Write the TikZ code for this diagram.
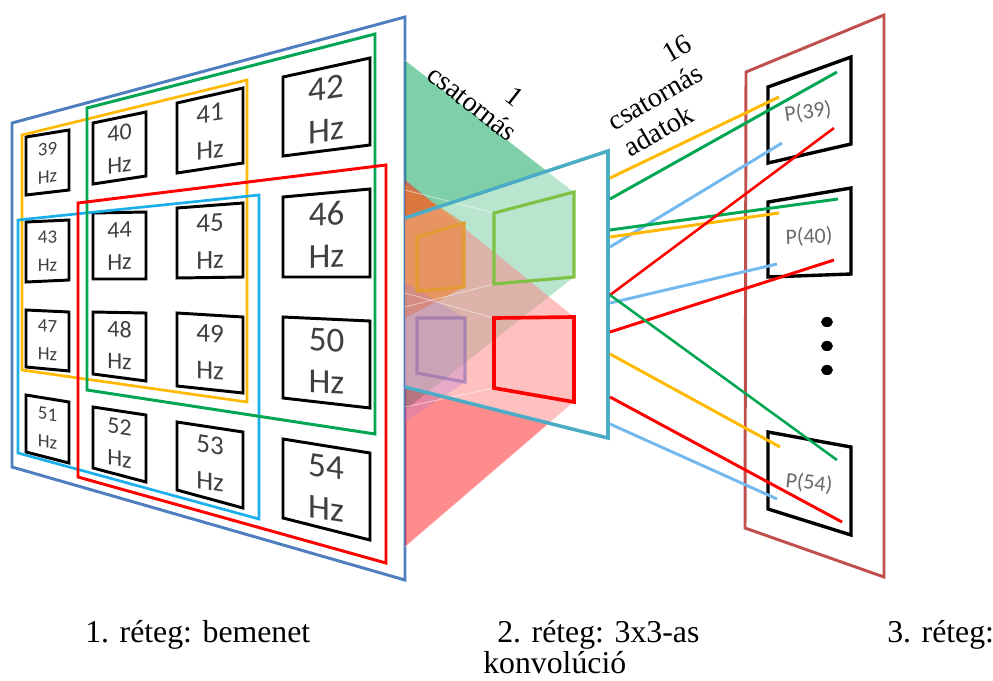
\documentclass[tikz,border=0pt]{standalone}
\usepackage{fontspec}
\setmainfont{Liberation Serif}
\newfontfamily\cellfont{Carlito}
\usetikzlibrary{shapes.geometric}

\definecolor{layerblue}{HTML}{4F7EC0}
\definecolor{layerteal}{HTML}{4BACC6}
\definecolor{layerbrown}{HTML}{C0504D}
\definecolor{kgreen}{HTML}{00A651}
\definecolor{korange}{HTML}{FFB900}
\definecolor{kred}{HTML}{FF0000}
\definecolor{kblue}{HTML}{1AAEEB}
\definecolor{lineblue}{HTML}{74B9EE}
\definecolor{sqgreen}{HTML}{7DC242}
\definecolor{sqorange}{HTML}{E39B2B}
\definecolor{sqpurple}{HTML}{8E6BB0}
\definecolor{projgreen}{HTML}{00A151}
\definecolor{projred}{HTML}{FF1A1A}
\definecolor{projorange}{HTML}{F07C28}
\definecolor{projviolet}{HTML}{A070E0}
\definecolor{celltext}{HTML}{404040}
\definecolor{ptext}{HTML}{6A6A6A}

\tikzset{
  cellbox/.style={draw=black, line width=2.1pt, line join=miter},
  celllabel/.style={align=center, inner sep=0pt, text=celltext},
  frameline/.style={line width=2.1pt, line join=miter},
  proj/.style={draw=none},
  projedge/.style={draw=white, line width=0.6pt, opacity=0.5},
  kernelsq/.style={line width=2.2pt, line join=miter},
  conn/.style={line width=2.1pt},
  pbox/.style={draw=black, line width=2.4pt, line join=miter},
  plabel/.style={inner sep=0pt, text=ptext, font=\cellfont\fontsize{15.6}{18}\selectfont},
  toplabel/.style={inner sep=0pt, align=center, font=\fontsize{20}{22}\selectfont},
  caption/.style={inner sep=0pt, anchor=base west, font=\fontsize{22.6}{26}\selectfont},
  dotmark/.style={ellipse, fill=black, inner sep=0pt, minimum width=8.4pt, minimum height=7.2pt},
}

\begin{document}
\begin{tikzpicture}[x=0.025cm, y=-0.025cm]
\path[use as bounding box] (0,0) rectangle (993,680);

% ---------- layer 1: input grid ----------
\draw[frameline, draw=layerblue, fill=white] (12,123) -- (405,17) -- (405,580) -- (12,467) -- cycle;

\foreach \ax/\ay/\bx/\by/\cx/\cy/\dx/\dy/\num/\fs/\bs/\sl in {
   26/137/69/130/69/190/26/195/39/13.5/20/0.15,
   93/123/146/112/146/176/93/184/40/17/22.8/0.15,
   177/103/243/88/243/163/177/173/41/19.2/26.3/0.15,
   283/77/370/58/370/145/283/156/42/24.9/29.9/0.15,
   26/222/69/220/69/280/26/282/43/13.5/20/0.05,
   93/213/146/212/146/279/93/279/44/17/22.8/0.05,
   177/208/243/203/243/277/177/278/45/19.2/26.3/0.05,
   283/197/370/189/370/277/283/277/46/24.9/29.9/0.05,
   26/310/69/312/69/371/26/367/47/13.5/20/-0.05,
   93/312/146/313/146/381/93/374/48/17/22.8/-0.05,
   177/313/243/317/243/393/177/386/49/19.2/26.3/-0.05,
   283/317/370/321/370/408/283/398/50/24.9/29.9/-0.05,
   26/395/69/402/69/463/26/452/51/13.5/20/-0.15,
   93/407/146/415/146/482/93/468/52/17/22.8/-0.15,
   177/422/243/432/243/508/177/490/53/19.2/26.3/-0.15,
   283/439/370/453/370/540/283/518/54/24.9/29.9/-0.15}
{
  \draw[cellbox] (\ax,\ay) -- (\bx,\by) -- (\cx,\cy) -- (\dx,\dy) -- cycle;
  \node[celllabel, yslant=\sl, font=\cellfont\fontsize{\fs}{\bs}\selectfont]
    (hz\num) at ({(\ax+\bx+\cx+\dx)/4},{(\ay+\by+\cy+\dy)/4}) {\num\\Hz};
}

% receptive fields
\draw[frameline, draw=korange, line width=1.9pt] (22,135) -- (247,80) -- (247,402) -- (22,370) -- cycle;
\draw[frameline, draw=kblue, line width=1.9pt] (18,220) -- (259,195) -- (259,519) -- (18,453) -- cycle;
\draw[frameline, draw=kgreen] (87,108) -- (375,34) -- (375,434) -- (87,390) -- cycle;
\draw[frameline, draw=kred] (78,203) -- (386,165) -- (386,563) -- (78,477) -- cycle;

% ---------- projections towards layer 2 ----------
\fill[proj, projgreen, opacity=0.5] (405,60) -- (574,192) -- (574,277) -- (405,410) -- cycle;
\fill[proj, projred, opacity=0.5] (405,180) -- (574,317) -- (574,402) -- (405,547) -- cycle;

% translucent plane of layer 2
\fill[white, opacity=0.45] (405,218) -- (608,151) -- (608,438) -- (405,387) -- cycle;

\fill[proj, projorange, opacity=0.55] (405,184) -- (464,223) -- (464,287) -- (405,318) -- cycle;
\fill[proj, projviolet, opacity=0.25] (405,282) -- (465,318) -- (465,382) -- (405,422) -- cycle;

% pyramid edges
\draw[projedge] (405,60) -- (574,192);
\draw[projedge] (405,190) -- (494,213);
\draw[projedge] (405,307) -- (494,284);
\draw[projedge] (405,293) -- (494,318);
\draw[projedge] (405,407) -- (494,388);
\draw[projedge] (574,402) -- (405,547);

% layer 2 border
\draw[line width=2.5pt, draw=layerteal, line join=miter] (405,218) -- (608,151) -- (608,438) -- (405,387);

% kernel outputs on layer 2
\draw[kernelsq, draw=sqorange, opacity=0.9] (417,237) -- (464,223) -- (464,287) -- (417,291) -- cycle;
\draw[kernelsq, draw=sqgreen] (494,213) -- (574,192) -- (574,277) -- (494,284) -- cycle;
\draw[kernelsq, draw=sqpurple, opacity=0.6] (417,318) -- (465,318) -- (465,382) -- (417,373) -- cycle;
\draw[kernelsq, draw=kred, line width=2.6pt] (494,318) -- (574,317) -- (574,402) -- (494,388) -- cycle;

% ---------- layer 3 ----------
\draw[frameline, draw=layerbrown] (746,72) -- (884,15) -- (884,577) -- (745,528) -- cycle;
\draw[pbox] (768,87) -- (851,57) -- (851,144) -- (768,163) -- cycle;
\draw[pbox] (768,202) -- (851,188) -- (851,274) -- (768,277) -- cycle;
\draw[pbox] (768,432) -- (851,447) -- (851,535) -- (768,509) -- cycle;
\node[plabel, rotate=8] (p39) at (808,112) {P(39)};
\node[plabel, rotate=2] (p40) at (809,237) {P(40)};
\node[plabel, rotate=-6] (p54) at (809,483) {P(54)};
\node[dotmark] (dot1) at (827,322) {};
\node[dotmark] (dot2) at (827,346) {};
\node[dotmark] (dot3) at (827,370) {};

% ---------- connections from layer 2 to layer 3 ----------
\foreach \n/\sy/\ex/\ey in {1/178/779/97, 2/199/837/72, 3/247/782/143, 4/230/838/199,
  5/237/779/213, 6/295/834/128, 7/303/777/264, 8/332/834/260, 9/295/837/460,
  10/354/780/447, 11/397/842/522, 12/424/777/499}
{
  \coordinate (s\n) at (610,\sy);
  \coordinate (e\n) at (\ex,\ey);
}
\draw[conn, korange] (s1) -- (e1);
\draw[conn, kgreen] (s2) -- (e2);
\draw[conn, lineblue] (s3) -- (e3);
\draw[conn, kgreen] (s4) -- (e4);
\draw[conn, korange] (s5) -- (e5);
\draw[conn, kred, line width=1.8pt] (s6) -- (e6);
\draw[conn, lineblue] (s7) -- (e7);
\draw[conn, kred] (s8) -- (e8);
\draw[conn, kgreen, line width=1.8pt] (s9) -- (e9);
\draw[conn, korange] (s10) -- (e10);
\draw[conn, kred] (s11) -- (e11);
\draw[conn, lineblue] (s12) -- (e12);

% ---------- labels ----------
\node[toplabel, rotate=-38] (chan1) at (482,91) {\hspace*{42pt}1\\csatornás};
\node[toplabel, rotate=30] (chan16) at (655,97) {\hspace*{62pt}16\\csatornás\\adatok\hspace*{20pt}};

\node[caption] (cap1) at (85,642) {1. réteg: bemenet};
\node[caption] (cap2) at (497,642) {2. réteg: 3x3-as};
\node[caption] (cap2b) at (483,673) {konvolúció};
\node[caption] (cap3) at (887,642) {3. réteg:};
\end{tikzpicture}
\end{document}
